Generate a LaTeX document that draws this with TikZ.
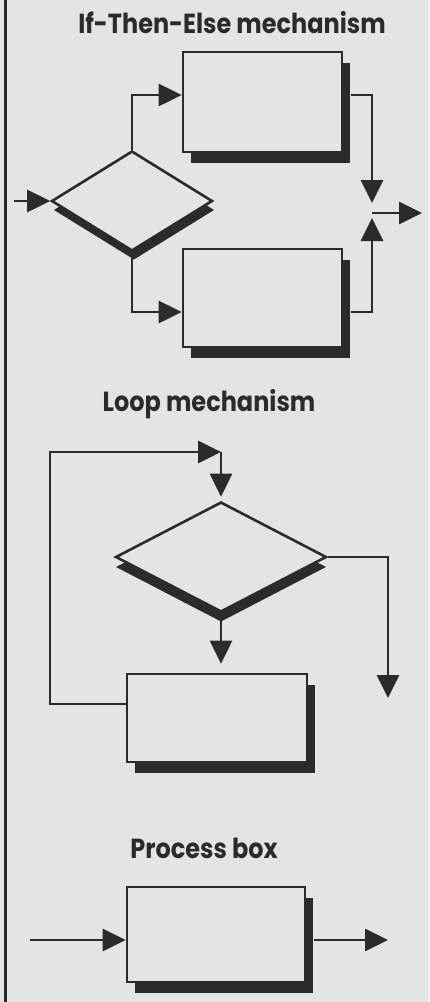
\documentclass[tikz,border=0pt]{standalone}
\usepackage{fontspec}
\usepackage{graphicx}
\setmainfont{Poppins}
\usetikzlibrary{arrows.meta,shapes.geometric,shadows}
\definecolor{paper}{HTML}{E3E5E4}
\definecolor{ink}{HTML}{2B2B2B}
% headings are set slightly taller than the font's natural shape
\newcommand\tallhead[1]{\scalebox{1}[1.15]{#1}}
\tikzset{
  proc/.style={rectangle, draw=ink, line width=2.6pt, fill=paper, inner sep=0pt},
  decide/.style={diamond, draw=ink, line width=2.6pt, fill=paper, inner sep=0pt},
  boxshadow/.style={drop shadow={shadow xshift=8pt, shadow yshift=-11pt, fill=ink, opacity=1}},
  conn/.style={draw=ink, line width=2.8pt, -{Triangle[length=23pt,width=22pt]}},
  heading/.style={font=\bfseries\fontsize{24}{29}\selectfont, text=ink, anchor=base, inner sep=0pt},
}
\begin{document}
\begin{tikzpicture}[x=1pt,y=-1pt]
% page and left rule
\fill[paper] (0,0) rectangle (429,1002);
\useasboundingbox (0,0) rectangle (429,1002);
\draw[ink, line width=3pt] (5,0) -- (5,1002);

% ---- If-Then-Else ----
\node[heading] (t1) at (232,33) {\tallhead{If-Then-Else mechanism}};
\node[proc, boxshadow, minimum width=159pt, minimum height=100pt] (b1) at (262.5,102) {};
\node[proc, boxshadow, minimum width=159pt, minimum height=98pt] (b2) at (262.5,298) {};
\node[decide, minimum width=161pt, minimum height=100pt,
      drop shadow={shadow xshift=2pt, shadow yshift=-9pt, fill=ink, opacity=1}] (d1) at (132,201) {};
\coordinate (in1) at (14,201);
\coordinate (m) at (372,213);
\coordinate (out1) at (422,213);
\draw[conn] (in1) -- (d1.west);
\draw[conn] (d1.north) |- ([yshift=7pt]b1.west);
\draw[conn] (d1.south) |- ([yshift=-14pt]b2.west);
\draw[conn] ([xshift=8pt,yshift=7pt]b1.east) -| ([yshift=10pt]m);
\draw[conn] ([xshift=8pt,yshift=-14pt]b2.east) -| ([yshift=-5pt]m);
\draw[conn] (m) -- (out1);

% ---- Loop ----
\node[heading] (t2) at (209,411) {\tallhead{Loop mechanism}};
\node[decide, minimum width=211pt, minimum height=110pt,
      drop shadow={shadow xshift=0pt, shadow yshift=-10pt, fill=ink, opacity=1}] (d2) at (221,557) {};
\node[proc, boxshadow, minimum width=180pt, minimum height=88pt] (b3) at (217,718) {};
\coordinate (lc) at (50,452);
\coordinate (lt) at (221,452);
\coordinate (exit2) at (388,698);
\draw[conn] ([yshift=14pt]b3.west) -| (lc) -- (lt);
\draw[conn] (lt) -- ([yshift=4pt]d2.north);
\draw[conn] (d2.south) -- ([yshift=9pt]d2.south |- b3.north);
\draw[conn] (d2.east) -| (exit2);

% ---- Process box ----
\node[heading] (t3) at (204,858) {\tallhead{Process box}};
\node[proc, boxshadow, minimum width=178pt, minimum height=95pt] (b4) at (216,934.5) {};
\coordinate (in4) at (30,940);
\coordinate (out4) at (388,940);
\draw[conn] (in4) -- (in4 -| b4.west);
\draw[conn] ([xshift=8pt,yshift=-5.5pt]b4.east) -- (out4);
\end{tikzpicture}
\end{document}
